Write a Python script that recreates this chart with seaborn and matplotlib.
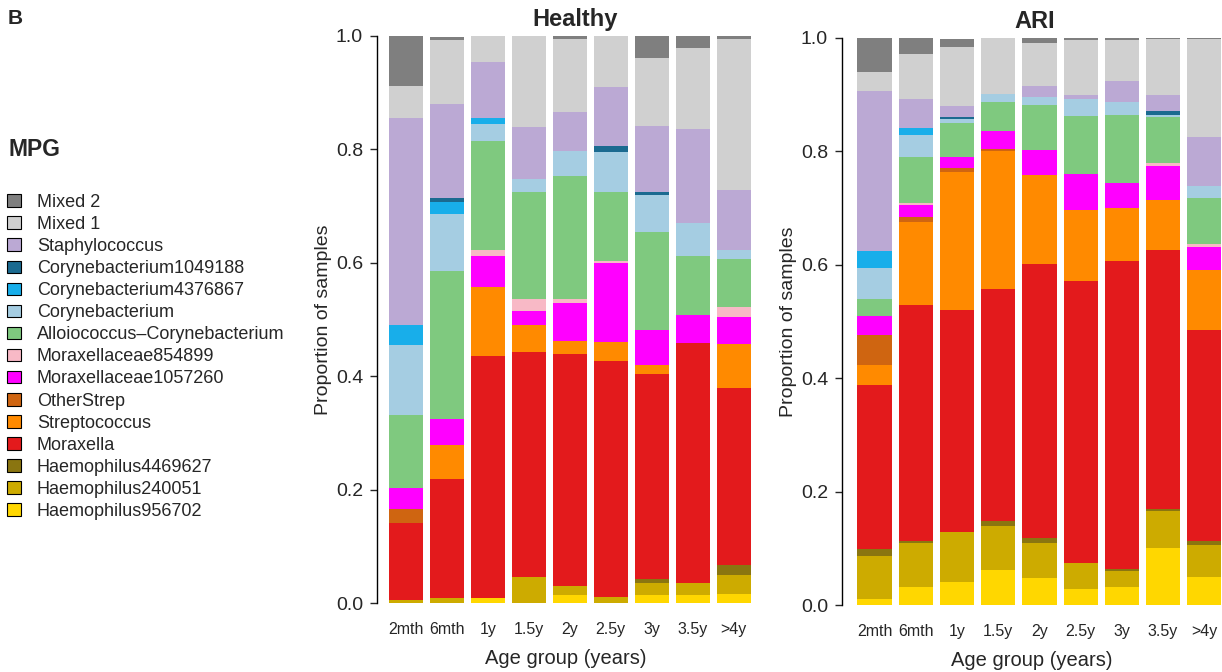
import numpy as np
import pandas as pd
import matplotlib
matplotlib.use("Agg")
import matplotlib.pyplot as plt
from matplotlib.patches import Patch
import seaborn as sns

# Age groups (x axis)
ages = ["2mth", "6mth", "1y", "1.5y", "2y", "2.5y", "3y", "3.5y", ">4y"]

# MPG groups, legend order (top of stack first)
mpg_names = [
    "Mixed 2", "Mixed 1", "Staphylococcus", "Corynebacterium1049188",
    "Corynebacterium4376867", "Corynebacterium", "Alloiococcus\u2013Corynebacterium",
    "Moraxellaceae854899", "Moraxellaceae1057260", "OtherStrep", "Streptococcus",
    "Moraxella", "Haemophilus4469627", "Haemophilus240051", "Haemophilus956702",
]
mpg_colors = [
    "#7f7f7f", "#d0d0d0", "#bba9d4", "#1b6a90",
    "#18aeea", "#a5cde2", "#7fc97f",
    "#f8b9c6", "#ff00ff", "#cf6511", "#ff8a00",
    "#e31a1c", "#8a7510", "#cdab00", "#ffd700",
]

# Healthy: proportion of samples per MPG, one value per age group
h_mixed2 = [0.089, 0.006, 0.000, 0.000, 0.006, 0.000, 0.039, 0.022, 0.006]
h_mixed1 = [0.056, 0.113, 0.045, 0.162, 0.128, 0.091, 0.120, 0.142, 0.266]
h_staph = [0.365, 0.166, 0.100, 0.092, 0.068, 0.104, 0.117, 0.165, 0.107]
h_c1049188 = [0.000, 0.007, 0.000, 0.000, 0.000, 0.011, 0.006, 0.000, 0.000]
h_c4376867 = [0.035, 0.021, 0.011, 0.000, 0.000, 0.000, 0.000, 0.000, 0.000]
h_coryne = [0.123, 0.100, 0.029, 0.024, 0.045, 0.071, 0.064, 0.059, 0.016]
h_allo = [0.129, 0.262, 0.192, 0.187, 0.216, 0.121, 0.174, 0.104, 0.084]
h_m854899 = [0.000, 0.000, 0.011, 0.022, 0.008, 0.003, 0.000, 0.000, 0.017]
h_m1057260 = [0.038, 0.045, 0.055, 0.025, 0.067, 0.139, 0.062, 0.049, 0.049]
h_otherstrep = [0.024, 0.000, 0.000, 0.000, 0.000, 0.000, 0.000, 0.000, 0.000]
h_strep = [0.000, 0.061, 0.121, 0.048, 0.022, 0.035, 0.015, 0.000, 0.076]
h_moraxella = [0.135, 0.210, 0.427, 0.396, 0.410, 0.415, 0.362, 0.424, 0.313]
h_h4469627 = [0.000, 0.000, 0.000, 0.000, 0.000, 0.000, 0.007, 0.000, 0.018]
h_h240051 = [0.006, 0.008, 0.000, 0.046, 0.016, 0.011, 0.021, 0.021, 0.033]
h_h956702 = [0.000, 0.000, 0.009, 0.000, 0.014, 0.000, 0.014, 0.014, 0.016]

# ARI
a_mixed2 = [0.062, 0.029, 0.014, 0.000, 0.008, 0.004, 0.004, 0.003, 0.002]
a_mixed1 = [0.034, 0.079, 0.104, 0.100, 0.077, 0.097, 0.072, 0.099, 0.172]
a_staph = [0.281, 0.051, 0.019, 0.000, 0.019, 0.006, 0.038, 0.029, 0.087]
a_c1049188 = [0.000, 0.000, 0.004, 0.000, 0.000, 0.000, 0.000, 0.006, 0.000]
a_c4376867 = [0.030, 0.012, 0.000, 0.000, 0.000, 0.000, 0.000, 0.000, 0.000]
a_coryne = [0.055, 0.039, 0.007, 0.014, 0.015, 0.030, 0.023, 0.005, 0.021]
a_allo = [0.031, 0.081, 0.060, 0.051, 0.079, 0.102, 0.119, 0.080, 0.082]
a_m854899 = [0.000, 0.003, 0.000, 0.000, 0.000, 0.000, 0.000, 0.005, 0.005]
a_m1057260 = [0.033, 0.022, 0.020, 0.031, 0.044, 0.064, 0.045, 0.061, 0.041]
a_otherstrep = [0.053, 0.008, 0.006, 0.004, 0.000, 0.000, 0.000, 0.000, 0.000]
a_strep = [0.035, 0.147, 0.244, 0.244, 0.157, 0.125, 0.094, 0.088, 0.105]
a_moraxella = [0.290, 0.416, 0.392, 0.408, 0.483, 0.498, 0.542, 0.456, 0.372]
a_h4469627 = [0.011, 0.003, 0.000, 0.009, 0.008, 0.000, 0.004, 0.004, 0.008]
a_h240051 = [0.076, 0.078, 0.087, 0.079, 0.062, 0.045, 0.028, 0.065, 0.055]
a_h956702 = [0.011, 0.032, 0.041, 0.061, 0.048, 0.029, 0.032, 0.101, 0.050]

healthy = [h_mixed2, h_mixed1, h_staph, h_c1049188, h_c4376867, h_coryne, h_allo,
           h_m854899, h_m1057260, h_otherstrep, h_strep, h_moraxella,
           h_h4469627, h_h240051, h_h956702]
ari = [a_mixed2, a_mixed1, a_staph, a_c1049188, a_c4376867, a_coryne, a_allo,
       a_m854899, a_m1057260, a_otherstrep, a_strep, a_moraxella,
       a_h4469627, a_h240051, a_h956702]


def long_table(rows):
    recs = []
    for name, vals in zip(mpg_names, rows):
        for i, v in enumerate(vals):
            recs.append({"pos": i, "mpg": name, "prop": v})
    return pd.DataFrame(recs)


sns.set_style("white")
plt.rcParams["font.family"] = ["Liberation Sans", "DejaVu Sans"]

palette = dict(zip(mpg_names, mpg_colors))
fig = plt.figure(figsize=(12.22, 6.72), dpi=100)

# title, data, axes rect, xlim, title x (axes fraction)
panels = [
    ("Healthy", healthy, [377 / 1222, 69 / 672, 377 / 1222, 567 / 672], (-0.71, 8.5), 0.525),
    ("ARI", ari, [842 / 1222, 67 / 672, 380 / 1222, 567 / 672], (-0.79, 8.43), 0.507),
]

for title, rows, rect, xlim, tx in panels:
    ax = fig.add_axes(rect)
    df = long_table(rows)
    sns.histplot(data=df, x="pos", weights="prop", hue="mpg", hue_order=mpg_names,
                 palette=palette, multiple="stack", discrete=True, shrink=0.83,
                 linewidth=0, alpha=1, legend=False, ax=ax)
    ax.set_xlim(*xlim)
    ax.set_ylim(0, 1)
    ax.set_xticks(np.arange(len(ages)))
    ax.set_xticklabels(ages, fontsize=11.5)
    ax.set_yticks([0, 0.2, 0.4, 0.6, 0.8, 1.0])
    ax.set_yticklabels(["0.0", "0.2", "0.4", "0.6", "0.8", "1.0"], fontsize=14)
    ax.tick_params(axis="x", length=0, pad=14)
    ax.tick_params(axis="y", length=5, width=1, pad=5, left=True)
    sns.despine(ax=ax, bottom=True)
    ax.spines["left"].set_linewidth(1)
    ax.spines["left"].set_color("black")
    ax.set_xlabel("Age group (years)", fontsize=14.5, labelpad=8)
    ax.set_ylabel("Proportion of samples", fontsize=14, labelpad=2.5)
    ax.set_title(title, fontsize=17, fontweight="bold", pad=7, x=tx)

fig.text(8 / 1222, 1 - 19 / 672, "B", fontsize=15, fontweight="bold", va="center")
fig.text(8 / 1222, 1 - 149 / 672, "MPG", fontsize=16.5, fontweight="bold", va="center")

handles = [Patch(facecolor=c, edgecolor="black", linewidth=0.8) for c in mpg_colors]
fig.legend(handles, mpg_names, loc="upper left", bbox_to_anchor=(7 / 1222, 1 - 194 / 672),
           frameon=False, fontsize=13, handlelength=0.75, handleheight=0.7,
           handletextpad=0.9, labelspacing=0.28, borderpad=0, borderaxespad=0)

fig.savefig("out.png", dpi=100)
